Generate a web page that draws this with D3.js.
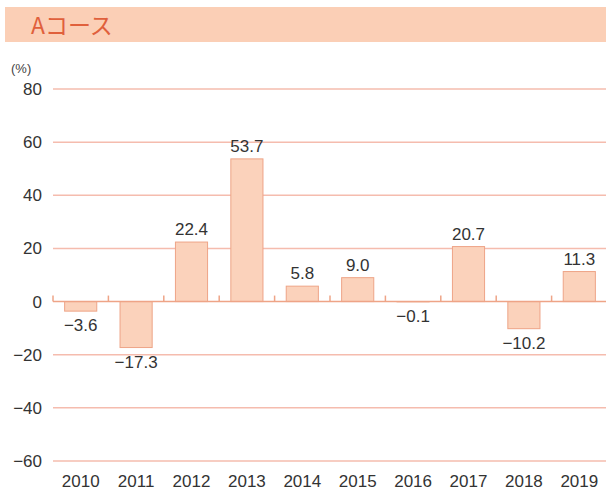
<!DOCTYPE html>
<html>
<head>
<meta charset="utf-8">
<script src="https://cdn.jsdelivr.net/npm/d3@7"></script>
<style>
  body { margin: 0; background: #fff; }
  text { font-family: "Liberation Sans", Arial, sans-serif; }
</style>
</head>
<body>
<div id="chart"></div>
<script>
// Data
const years = ["2010", "2011", "2012", "2013", "2014", "2015", "2016", "2017", "2018", "2019"];
const values = [-3.6, -17.3, 22.4, 53.7, 5.8, 9.0, -0.1, 20.7, -10.2, 11.3];
const yTicks = [80, 60, 40, 20, 0, -20, -40, -60];
const title = "Aコース";

const W = 606, H = 497;
const plot = { left: 53, right: 607, top: 89, bottom: 461 };

const svg = d3.select("#chart")
              .append("svg")
              .attr("width", W)
              .attr("height", H);

// Title band
svg.append("rect")
   .attr("x", 5).attr("y", 7)
   .attr("width", W - 5).attr("height", 35)
   .attr("fill", "#fbcfb6");

svg.append("text")
   .attr("x", 31).attr("y", 34)
   .attr("fill", "#e0603c")
   .style("font-family", "'Noto Sans CJK JP', sans-serif")
   .style("font-size", "23px")
   .text(title);

// Scales
const x = d3.scaleBand()
            .domain(years)
            .range([plot.left, plot.right])
            .paddingInner(0.42)
            .paddingOuter(0.21);

const y = d3.scaleLinear()
            .domain([-60, 80])
            .range([plot.bottom, plot.top]);

// Gridlines + y labels
const yAxis = svg.append("g")
   .attr("transform", `translate(${plot.left},0)`)
   .call(d3.axisLeft(y).tickValues(yTicks).tickSize(0).tickPadding(11));
yAxis.select(".domain").remove();
yAxis.selectAll("text")
     .style("font-size", "17px")
     .attr("fill", "#333")
     .text(d => d < 0 ? "\u2212" + Math.abs(d) : d);

svg.append("g")
   .selectAll("line")
   .data(yTicks.filter(d => d !== 0))
   .join("line")
   .attr("x1", plot.left).attr("x2", W)
   .attr("y1", d => y(d)).attr("y2", d => y(d))
   .attr("stroke", "#f5bcae")
   .attr("stroke-width", 1.5);

svg.append("text")
   .attr("x", 11).attr("y", 73)
   .attr("fill", "#444")
   .style("font-size", "13px")
   .text("(%)");

// Bars
svg.append("g")
   .selectAll("rect")
   .data(values)
   .join("rect")
   .attr("x", (d, i) => x(years[i]))
   .attr("y", d => y(Math.max(0, d)))
   .attr("width", x.bandwidth())
   .attr("height", d => Math.abs(y(d) - y(0)))
   .attr("fill", "#fbd2bb")
   .attr("stroke", "#eea487")
   .attr("stroke-width", 1);

// Zero axis with upward ticks at band edges
svg.append("line")
   .attr("x1", plot.left).attr("x2", W)
   .attr("y1", y(0)).attr("y2", y(0))
   .attr("stroke", "#eea487")
   .attr("stroke-width", 1.5);

svg.append("g")
   .selectAll("line")
   .data(d3.range(years.length))
   .join("line")
   .attr("x1", i => plot.left + i * x.step())
   .attr("x2", i => plot.left + i * x.step())
   .attr("y1", y(0)).attr("y2", y(0) - 6)
   .attr("stroke", "#eea487")
   .attr("stroke-width", 1.5);

// Value labels
svg.append("g")
   .selectAll("text")
   .data(values)
   .join("text")
   .attr("x", (d, i) => x(years[i]) + x.bandwidth() / 2)
   .attr("y", d => d >= 0 ? y(d) - 7 : y(d) + 20)
   .attr("text-anchor", "middle")
   .attr("fill", "#333")
   .style("font-size", "17px")
   .text(d => (d < 0 ? "\u2212" + Math.abs(d).toFixed(1) : d.toFixed(1)));

// Year labels
svg.append("g")
   .selectAll("text")
   .data(years)
   .join("text")
   .attr("x", d => x(d) + x.bandwidth() / 2)
   .attr("y", 487)
   .attr("text-anchor", "middle")
   .attr("fill", "#333")
   .style("font-size", "17px")
   .text(d => d);
</script>
</body>
</html>
